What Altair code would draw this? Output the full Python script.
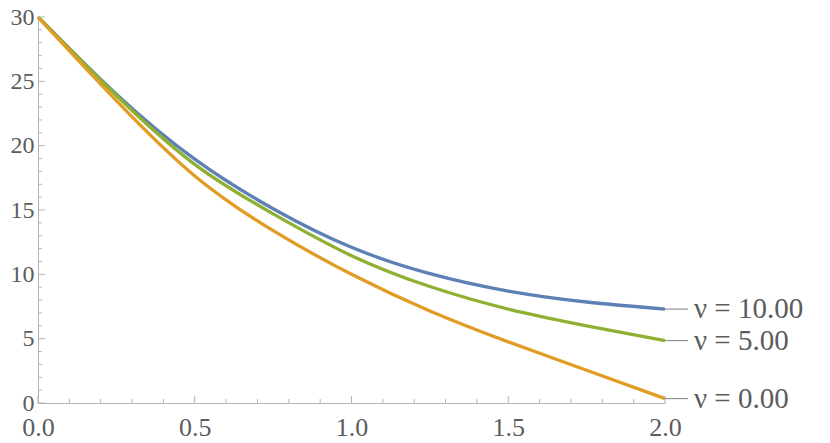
import altair as alt
import pandas as pd

# ---- data ----
x_vals = [0.0, 0.25, 0.5, 0.75, 1.0, 1.25, 1.5, 1.75, 2.0]
nu10 = [30.0, 24.0, 18.95, 15.1, 12.1, 10.05, 8.7, 7.85, 7.3]
nu5 = [30.0, 23.9, 18.55, 14.7, 11.45, 9.05, 7.3, 6.0, 4.85]
nu0 = [30.0, 23.5, 17.65, 13.4, 10.0, 7.15, 4.75, 2.55, 0.34]
labels = ["ν = 10.00", "ν = 5.00", "ν = 0.00"]
colors = ["#5E81B5", "#8FB032", "#E19C24"]

x_major = [0.0, 0.5, 1.0, 1.5, 2.0]
x_minor = [0.1, 0.2, 0.3, 0.4, 0.6, 0.7, 0.8, 0.9, 1.1, 1.2, 1.3, 1.4, 1.6, 1.7, 1.8, 1.9]
y_major = [0, 5, 10, 15, 20, 25, 30]
y_minor = [v for v in range(0, 31) if v % 5 != 0]

W, H = 627, 386
AX = "#b4b4b4"
TXT = "#5c5c5c"
FONT = "Liberation Serif"
XFS = 26
YFS = 24
LFS = 29

rows = []
for name, ys in zip(labels, [nu10, nu5, nu0]):
    for x, y in zip(x_vals, ys):
        rows.append({"x": x, "y": y, "series": name})
df = pd.DataFrame(rows)

ends = pd.DataFrame({
    "x": [x_vals[-1]] * 3,
    "y": [nu10[-1], nu5[-1], nu0[-1]],
    "label": labels,
})

xs = alt.Scale(domain=[0, 2], nice=False, zero=False)
ysc = alt.Scale(domain=[0, 30], nice=False, zero=False)

xaxis = alt.Axis(values=x_major, format=".1f", tickSize=0, grid=False, title=None,
                 domainColor=AX, labelFont=FONT, labelFontSize=XFS, labelColor=TXT,
                 labelFlush=False, labelOverlap=False, labelPadding=11)
yaxis = alt.Axis(values=y_major, format="d", tickSize=0, grid=False, title=None,
                 domainColor=AX, labelFont=FONT, labelFontSize=YFS, labelColor=TXT,
                 labelOverlap=False, labelPadding=4, labelBaseline="middle")

lines = alt.Chart(df).mark_line(strokeWidth=3.3, interpolate="natural").encode(
    x=alt.X("x:Q", scale=xs, axis=xaxis),
    y=alt.Y("y:Q", scale=ysc, axis=yaxis),
    color=alt.Color("series:N", scale=alt.Scale(domain=labels, range=colors), legend=None),
    order=alt.Order("x:Q"),
)

xmaj = alt.Chart(pd.DataFrame({"t": x_major})).mark_rule(color=AX, strokeWidth=1).encode(
    x=alt.X("t:Q", scale=xs, axis=xaxis), y=alt.value(H), y2=alt.value(H - 7))
xmin = alt.Chart(pd.DataFrame({"t": x_minor})).mark_rule(color=AX, strokeWidth=1).encode(
    x=alt.X("t:Q", scale=xs, axis=xaxis), y=alt.value(H), y2=alt.value(H - 4))
ymaj = alt.Chart(pd.DataFrame({"t": y_major})).mark_rule(color=AX, strokeWidth=1).encode(
    y=alt.Y("t:Q", scale=ysc, axis=yaxis), x=alt.value(0), x2=alt.value(7))
ymin = alt.Chart(pd.DataFrame({"t": y_minor})).mark_rule(color=AX, strokeWidth=1).encode(
    y=alt.Y("t:Q", scale=ysc, axis=yaxis), x=alt.value(0), x2=alt.value(4))

conn = alt.Chart(ends).mark_rule(color="#808080", strokeWidth=1, x2Offset=23).encode(
    x=alt.X("x:Q", scale=xs, axis=xaxis), x2=alt.X2("x"),
    y=alt.Y("y:Q", scale=ysc, axis=yaxis))
txt = alt.Chart(ends).mark_text(align="left", baseline="middle", dx=29, font=FONT,
                                fontSize=LFS, color=TXT).encode(
    x=alt.X("x:Q", scale=xs, axis=xaxis),
    y=alt.Y("y:Q", scale=ysc, axis=yaxis),
    text="label:N")

chart = alt.layer(lines, xmin, xmaj, ymin, ymaj, conn, txt).properties(
    width=W, height=H,
    autosize=alt.AutoSizeParams(type="none"),
    padding={"left": 30, "top": 9, "right": 150, "bottom": 38},
).configure_view(stroke=None)

chart.save("out.html", embed_options={"renderer": "svg", "actions": False})
